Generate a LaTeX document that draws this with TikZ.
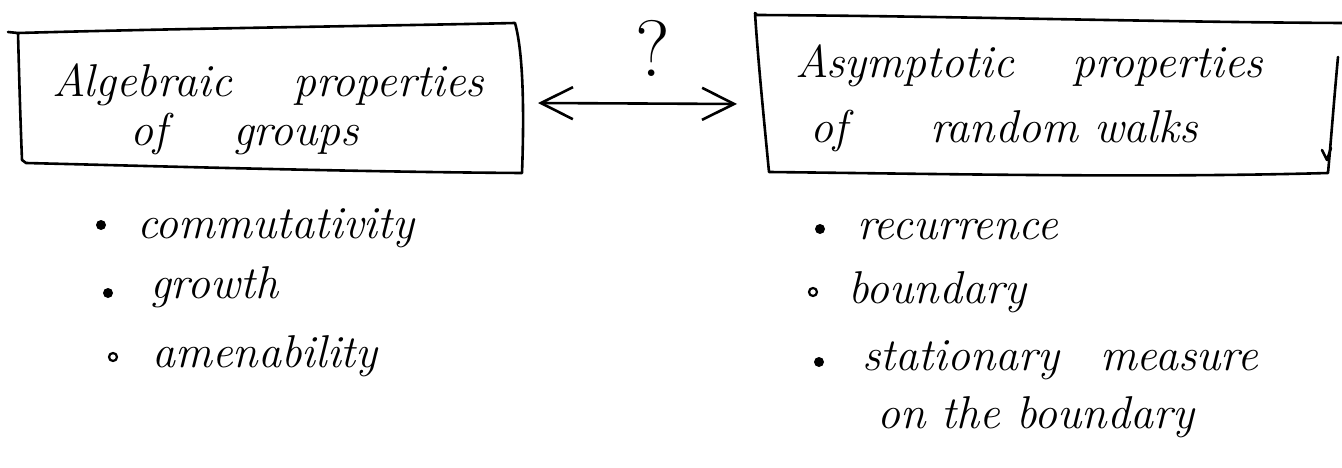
\documentclass[tikz,border=0pt]{standalone}
\usepackage{fontspec}
\usetikzlibrary{arrows.meta}
\newcommand\hw{\fontsize{46}{50}\selectfont\itshape}
\tikzset{
  hand/.style={line width=2.6pt, line cap=round, line join=round},
  txt/.style={anchor=base west, inner sep=0pt, font=\hw},
  dot/.style={circle, fill, inner sep=0pt, minimum size=10pt},
  odot/.style={circle, draw, line width=2.2pt, inner sep=0pt, minimum size=8pt},
  twoway/.style={>={Straight Barb[length=32pt, width=32pt]}, <->}
}
\begin{document}
\begin{tikzpicture}[x=1pt, y=-1pt]
\useasboundingbox (0,0) rectangle (1342,468);

% left frame
\draw[hand] (8,32) -- (18,33) .. controls (200,28) and (380,26) .. (515,23)
  .. controls (524,55) and (524,120) .. (522,173)
  .. controls (360,172) and (150,166) .. (26,163) -- (22,160)
  .. controls (20,110) and (19,70) .. (18,33);
% right frame
\draw[hand] (755,13) -- (757,15) .. controls (950,16) and (1150,22) .. (1342,23);
\draw[hand] (1338,57) .. controls (1334,100) and (1331,140) .. (1328,173)
  .. controls (1150,178) and (950,174) .. (769,172)
  .. controls (764,120) and (758,60) .. (755,13);
\draw[hand] (1322,150) -- (1327,160) -- (1331,148);

% frame titles
\node[txt] (lt1) at (52,97) {\makebox[241pt][l]{Algebraic}properties};
\node[txt] (lt2) at (130,146) {\makebox[103pt][l]{of}groups};
\node[txt] (rt1) at (795,78) {\makebox[277pt][l]{Asymptotic}properties};
\node[txt] (rt2) at (810,143) {\makebox[120pt][l]{of}random walks};

% relation between the two frames
\coordinate (aL) at (538,103);
\coordinate (aR) at (737,104);
\draw[hand, twoway] (aL) -- (aR);
\node[font=\fontsize{80}{80}\selectfont, inner sep=0pt] (q) at (653,48) {?};

% left list
\node[dot] (lb1) at (101,225) {};
\node[txt] (li1) at (137,238) {commutativity};
\node[dot] (lb2) at (108,293) {};
\node[txt] (li2) at (150,298) {growth};
\node[odot] (lb3) at (113,357) {};
\node[txt] (li3) at (152,367) {amenability};

% right list
\node[dot] (rb1) at (820,229) {};
\node[txt] (ri1) at (857,240) {recurrence};
\node[odot] (rb2) at (813,292) {};
\node[txt] (ri2) at (848,303) {boundary};
\node[dot] (rb3) at (819,362) {};
\node[txt] (ri3) at (862,370) {\makebox[238pt][l]{stationary}measure};
\node[txt] (ri4) at (877,428) {on the boundary};
\end{tikzpicture}
\end{document}
